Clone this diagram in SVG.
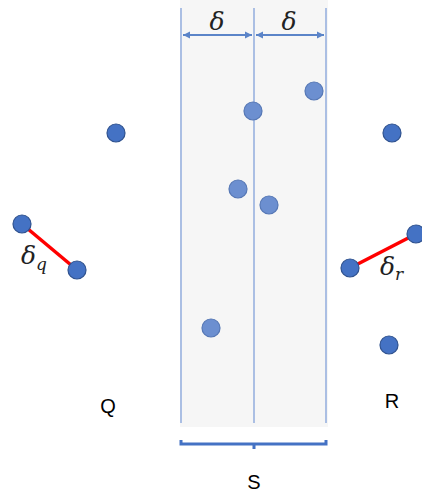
<svg xmlns="http://www.w3.org/2000/svg" width="422" height="494" viewBox="0 0 422 494">
<style>
.pt{fill:#4472C4;stroke:#2F528F;stroke-width:1.2}
.lp{fill:#6C8FD0;stroke:#5577B5;stroke-width:1.2}
.vl{stroke:#7A9BD8;stroke-width:1.2}
.red{stroke:#FF0000;stroke-width:3.5}
.lbl{font-family:"Liberation Sans",Arial,sans-serif;font-size:20px;fill:#000}
.math{font-family:"DejaVu Serif","Liberation Serif",serif;font-style:italic;font-size:25px;fill:#222}
.sub{font-family:"DejaVu Serif","Liberation Serif",serif;font-style:italic;font-size:17px;fill:#222}
</style>
<defs>
<marker id="ah" viewBox="0 0 10 10" refX="10" refY="5" markerWidth="4" markerHeight="4" orient="auto-start-reverse">
<path d="M0,0 L10,5 L0,10 z" fill="#5B84C8"/>
</marker>
</defs>
<rect x="180" y="0" width="148" height="427" fill="#F6F6F6"/>
<g id="connectors">
<line class="vl" x1="181" y1="8" x2="181" y2="423"/>
<line class="vl" x1="254" y1="8" x2="254" y2="423"/>
<line class="vl" x1="326" y1="8" x2="326" y2="423"/>
<line x1="183" y1="35" x2="252" y2="35" stroke="#5B84C8" stroke-width="1.8" marker-start="url(#ah)" marker-end="url(#ah)"/>
<line x1="256" y1="35" x2="324" y2="35" stroke="#5B84C8" stroke-width="1.8" marker-start="url(#ah)" marker-end="url(#ah)"/>
<line class="red" x1="22" y1="224" x2="77" y2="270"/>
<line class="red" x1="350" y1="268" x2="416" y2="234"/>
<path d="M181,440 V444 H326 V440 M254,444 V449" fill="none" stroke="#4472C4" stroke-width="3"/>
</g>
<text class="math" x="217" y="30" text-anchor="middle">δ</text>
<text class="math" x="289" y="30" text-anchor="middle">δ</text>
<g id="q1"><circle class="pt" cx="116" cy="133" r="9"/></g>
<g id="q2"><circle class="pt" cx="22" cy="224" r="9"/></g>
<g id="q3"><circle class="pt" cx="77" cy="270" r="9"/></g>
<g id="r1"><circle class="pt" cx="392" cy="133" r="9"/></g>
<g id="r2"><circle class="pt" cx="416" cy="234" r="9"/></g>
<g id="r3"><circle class="pt" cx="350" cy="268" r="9"/></g>
<g id="r4"><circle class="pt" cx="389" cy="345" r="9"/></g>
<g id="s1"><circle class="lp" cx="253" cy="111" r="9"/></g>
<g id="s2"><circle class="lp" cx="314" cy="91" r="9"/></g>
<g id="s3"><circle class="lp" cx="238" cy="189" r="9"/></g>
<g id="s4"><circle class="lp" cx="269" cy="205" r="9"/></g>
<g id="s5"><circle class="lp" cx="211" cy="328" r="9"/></g>
<text class="math" x="21" y="264">δ<tspan class="sub" dy="6">q</tspan></text>
<text class="math" x="380" y="275">δ<tspan class="sub" dy="5">r</tspan></text>
<text class="lbl" x="108" y="413" text-anchor="middle">Q</text>
<text class="lbl" x="392" y="408" text-anchor="middle">R</text>
<text class="lbl" x="254" y="489" text-anchor="middle">S</text>
</svg>
